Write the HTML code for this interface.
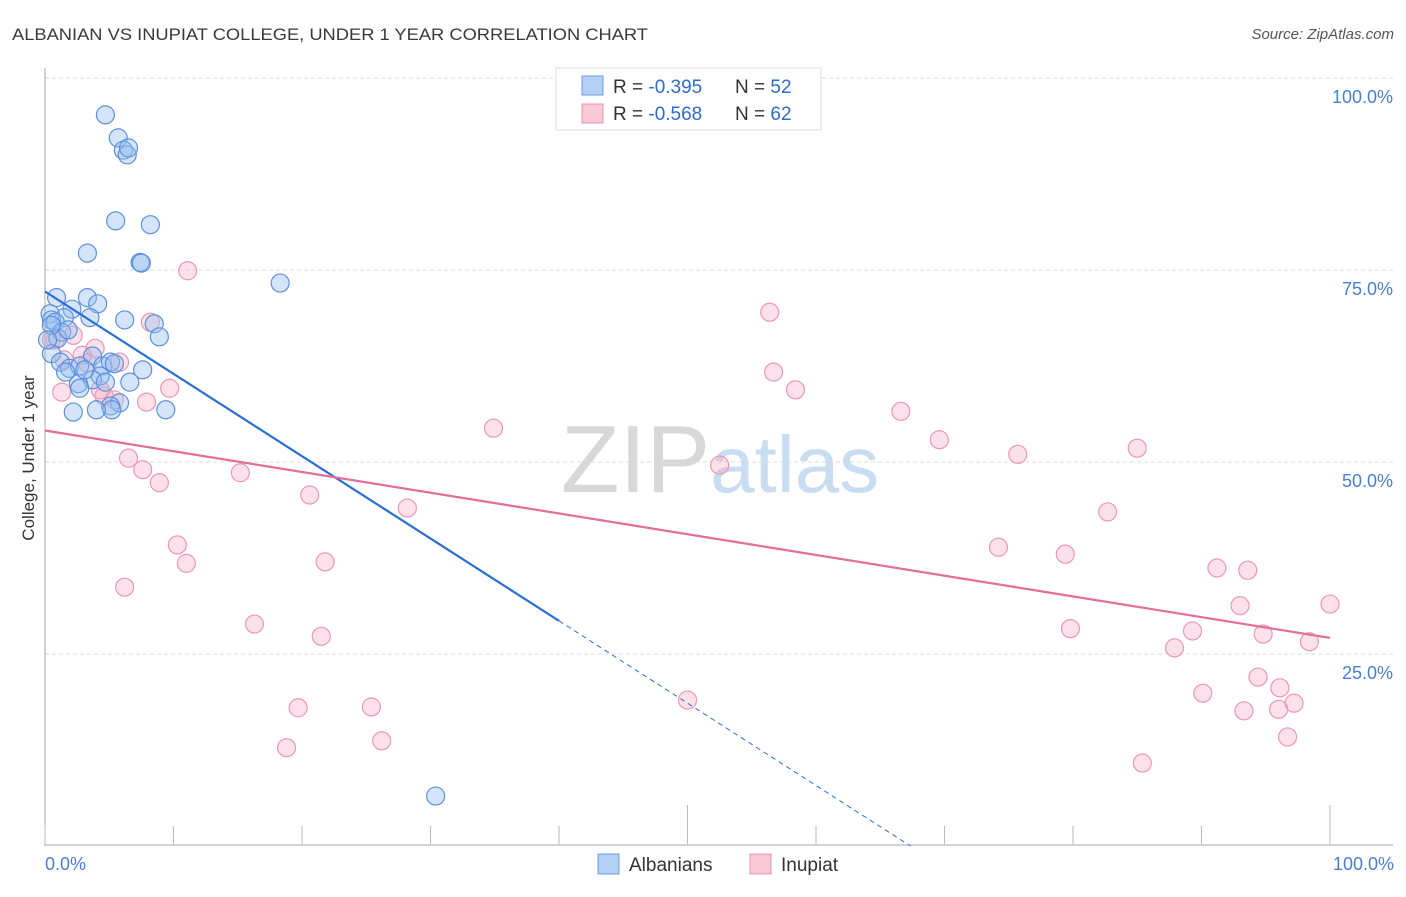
<!DOCTYPE html>
<html><head><meta charset="utf-8"><style>
body{margin:0;background:#fff;font-family:"Liberation Sans",sans-serif}
svg text{font-family:"Liberation Sans",sans-serif}
</style></head><body>
<svg id="chart" width="1406" height="892">
<text x="12" y="40" font-size="17" fill="#3a3a3a" textLength="636" lengthAdjust="spacingAndGlyphs">ALBANIAN VS INUPIAT COLLEGE, UNDER 1 YEAR CORRELATION CHART</text>
<text x="1394" y="39" font-size="15" fill="#555" font-style="italic" text-anchor="end">Source: ZipAtlas.com</text>
<text x="720" y="492" font-size="96" fill="#d8d8d8" text-anchor="middle" font-family="Liberation Serif">ZIP<tspan fill="#c8dcf2" font-family="Liberation Sans" font-size="80">atlas</tspan></text>
<g id="grid"></g>
<g id="axes"></g>
<g id="marks"></g>
<text transform="translate(34,458) rotate(-90)" font-size="17" fill="#333" text-anchor="middle">College, Under 1 year</text>
<g>
<rect x="556" y="68" width="265" height="62" fill="#fff" stroke="#ddd"/>
<rect x="582" y="76" width="21" height="19" fill="#b5d0f5" stroke="#6a9ae0"/>
<text x="613" y="93" font-size="19" fill="#333">R = <tspan fill="#2f6bd0">-0.395</tspan></text>
<text x="735" y="93" font-size="19" fill="#333">N = <tspan fill="#2f6bd0">52</tspan></text>
<rect x="582" y="104" width="21" height="19" fill="#f9c8d6" stroke="#e895af"/>
<text x="613" y="120" font-size="19" fill="#333">R = <tspan fill="#2f6bd0">-0.568</tspan></text>
<text x="735" y="120" font-size="19" fill="#333">N = <tspan fill="#2f6bd0">62</tspan></text>
</g>
<g>
<rect x="598" y="854" width="21" height="20" fill="#b5d0f5" stroke="#6a9ae0"/>
<text x="629" y="871" font-size="19" fill="#333">Albanians</text>
<rect x="750" y="854" width="21" height="20" fill="#f9c8d6" stroke="#e895af"/>
<text x="781" y="871" font-size="19" fill="#333">Inupiat</text>
</g>
</svg>
<script>
const blueX=[4.7,5.7,6.1,6.4,6.5,5.5,8.2,3.3,7.4,7.5,18.3,0.9,3.3,4.1,2.1,3.5,1.5,6.2,8.5,0.4,0.5,0.8,1.3,1.0,8.9,0.5,3.7,1.2,1.9,2.7,4.5,5.1,7.6,4.3,6.6,3.7,2.6,2.7,4.7,5.8,5.1,5.2,4.0,2.2,9.4,30.4,0.5,1.8,0.2,3.1,1.6,5.4];
const blueY=[95.2,92.2,90.6,90.0,90.9,81.4,80.9,77.2,76.0,75.9,73.3,71.4,71.4,70.6,69.9,68.8,68.8,68.5,68.0,69.3,68.5,68.2,66.9,66.1,66.3,64.1,63.8,63.0,62.2,62.5,62.5,63.0,62.0,61.2,60.4,60.7,60.2,59.6,60.4,57.7,57.3,56.8,56.8,56.5,56.8,6.5,67.8,67.2,65.9,62.0,61.7,62.8];
const pinkX=[11.1,56.4,8.2,2.2,0.8,3.9,5.8,3.3,1.5,56.7,9.7,58.4,1.3,7.9,4.6,5.4,66.6,34.9,69.6,85.0,75.7,6.5,52.5,7.6,15.2,8.9,20.6,28.2,82.7,10.3,74.2,79.4,11.0,21.8,91.2,93.6,6.2,100,93.0,16.3,79.8,89.3,21.5,94.8,98.4,87.9,50.0,94.4,96.1,90.1,19.7,25.4,97.2,96.0,93.3,96.7,18.8,26.2,85.4,0.5,2.9,4.3];
const pinkY=[74.9,69.5,68.2,66.5,65.9,64.8,63.0,62.9,63.3,61.7,59.6,59.4,59.1,57.8,58.6,58.1,56.6,54.4,52.9,51.8,51.0,50.5,49.6,49.0,48.6,47.3,45.7,44.0,43.5,39.2,38.9,38.0,36.8,37.0,36.2,35.9,33.7,31.5,31.3,28.9,28.3,28.0,27.3,27.6,26.6,25.8,19.0,22.0,20.6,19.9,18.0,18.1,18.6,17.8,17.6,14.2,12.8,13.7,10.8,65.9,63.9,59.4];
const blueFit=[72.2,-1.072];
const pinkFit=[54.1,-0.27];
const yTicks=[25,50,75,100];
const yTickLabels=["25.0%","50.0%","75.0%","100.0%"];
const xTicks=[0,10,20,30,40,50,60,70,80,90,100];

const NS="http://www.w3.org/2000/svg";
const sx=v=>45+v*12.85, sy=v=>846-v*7.68;
function mk(parent,tag,attrs){const e=document.createElementNS(NS,tag);for(const k in attrs)e.setAttribute(k,attrs[k]);document.getElementById(parent).appendChild(e);return e;}
yTicks.forEach((t,i)=>{
 const g=mk('grid','line',{x1:45,x2:1393,y1:sy(t),y2:sy(t),stroke:'#ddd','stroke-dasharray':'4,3'});
 
 
 const l=mk('grid','text',{x:1393,y:sy(t)+25,'font-size':18,fill:'#4a7fd8','text-anchor':'end'});
 l.textContent=yTickLabels[i];
 
 
});
let ax=mk('axes','line',{x1:45,x2:45,y1:68,y2:846,stroke:'#aaa'});


ax=mk('axes','line',{x1:45,x2:1393,y1:845,y2:845,stroke:'#aaa'});


xTicks.forEach(t=>{
 const tk=mk('axes','line',{x1:sx(t),x2:sx(t),y1:(t==50||t==100)?805:826,y2:845,stroke:'#bbb'});
 
 
});
let xl=mk('axes','text',{x:45,y:870,'font-size':18,fill:'#4a7fd8'});xl.textContent='0.0%';


xl=mk('axes','text',{x:1394,y:870,'font-size':18,fill:'#4a7fd8','text-anchor':'end'});xl.textContent='100.0%';


pinkX.forEach((x,i)=>{
 const c=mk('marks','circle',{cx:sx(x),cy:sy(pinkY[i]),r:9,fill:'rgba(245,170,195,0.35)',stroke:'#eb98b3','stroke-width':1.2});
 
 
});
blueX.forEach((x,i)=>{
 const c=mk('marks','circle',{cx:sx(x),cy:sy(blueY[i]),r:9,fill:'rgba(150,190,240,0.4)',stroke:'#5d91dc','stroke-width':1.2});
 
 
});
const bEnd=40, bZero=-blueFit[0]/blueFit[1];
let ln=mk('marks','line',{x1:sx(0),y1:sy(blueFit[0]),x2:sx(bEnd),y2:sy(blueFit[0]+blueFit[1]*bEnd),stroke:'#2a6fd6','stroke-width':2.2});


ln=mk('marks','line',{x1:sx(bEnd),y1:sy(blueFit[0]+blueFit[1]*bEnd),x2:sx(bZero),y2:sy(0),stroke:'#2a6fd6','stroke-width':1,'stroke-dasharray':'5,4'});


ln=mk('marks','line',{x1:sx(0),y1:sy(pinkFit[0]),x2:sx(100),y2:sy(pinkFit[0]+pinkFit[1]*100),stroke:'#e56d97','stroke-width':2.2});


</script>
</body></html>
